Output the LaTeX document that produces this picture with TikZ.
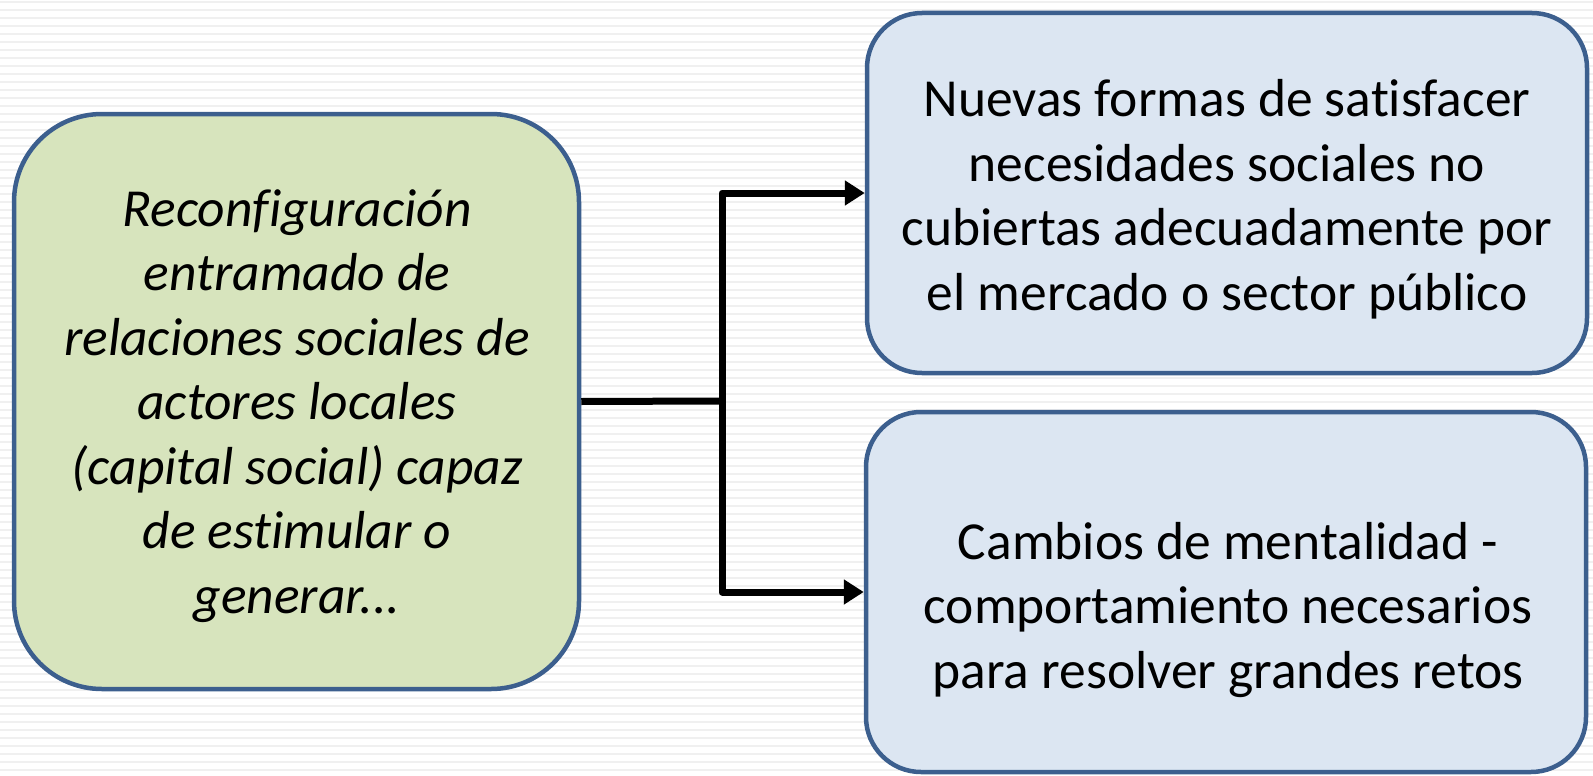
\documentclass[tikz,border=0pt]{standalone}
\usepackage{fontspec}
\setmainfont[Ligatures=NoCommon]{Carlito}
\usetikzlibrary{arrows.meta}

\definecolor{boxline}{RGB}{60,95,142}
\definecolor{greenfill}{RGB}{215,228,189}
\definecolor{bluefill}{RGB}{220,230,242}
\definecolor{stripe}{RGB}{240,240,240}

\tikzset{
  bgline/.style={draw=stripe,line width=1.8pt},
  causebox/.style={draw=boxline,line width=4.5pt,fill=greenfill,rounded corners=88pt,
    minimum width=565pt,minimum height=575pt,inner sep=0pt},
  effectbox/.style={draw=boxline,line width=4.5pt,fill=bluefill,rounded corners=55pt,
    minimum width=720pt,minimum height=360pt,inner sep=0pt},
  boxtext/.style={align=center,font=\fontsize{53.5}{64.5}\selectfont},
  flow/.style={line width=7pt,line join=round},
}

\begin{document}
\begin{tikzpicture}[x=1pt,y=-1pt]
  \useasboundingbox (0,0) rectangle (1593,776);
  \foreach \k in {0,...,96}
    \draw[bgline] (0,\k*8+2) -- (1593,\k*8+2);

  \node[causebox] (cause) at (296.5,401.5) {};
  \node[effectbox] (needs) at (1227,193) {};
  \node[effectbox] (minds) at (1226,592) {};

  \node[boxtext] (causetxt) at (297,406)
    {\itshape Reconfiguración\\ \itshape entramado de\\ \itshape relaciones sociales de\\
     \itshape actores locales\\ \itshape (capital social) capaz\\ \itshape de estimular o\\
     \itshape generar...};
  \node[boxtext] (needstxt) at (1227,199)
    {Nuevas formas de satisfacer\\ necesidades sociales no\\
     cubiertas adecuadamente por\\ el mercado o sector público};
  \node[boxtext] (mindstxt) at (1228,610)
    {Cambios de mentalidad -\\ comportamiento necesarios\\ para resolver grandes retos};

  \coordinate (split) at (722,401);
  \draw[flow] (cause.east) -- (split);
  \draw[flow,-{Triangle[length=20pt,width=24pt]}] (split) |- (needs.west);
  \draw[flow,-{Triangle[length=20pt,width=24pt]}] (split) |- (minds.west);
\end{tikzpicture}
\end{document}
